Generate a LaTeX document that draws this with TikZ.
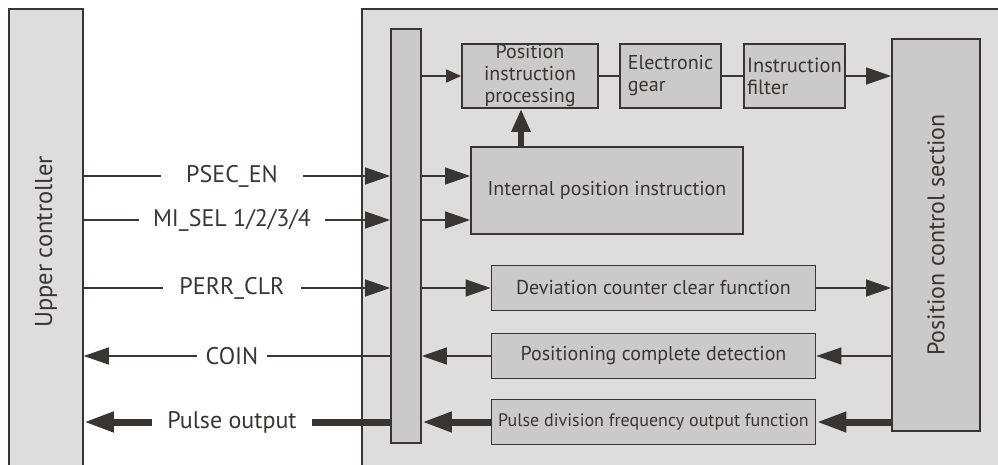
\documentclass[tikz,border=0pt]{standalone}
\usepackage{fontspec}
\setmainfont{PT Sans}
\usetikzlibrary{arrows.meta, positioning}
\definecolor{cink}{HTML}{3A3434}
\definecolor{cpanel}{HTML}{DCDDDC}
\definecolor{cbox}{HTML}{C9CAC9}
\tikzset{
  every picture/.style={line width=1.4pt, text=cink},
  panel/.style={draw=cink, fill=cpanel, line width=1.5pt, inner sep=0pt},
  box/.style={draw=cink, fill=cbox, line width=1.8pt, align=center, inner sep=2pt, font=\fontsize{20}{22}\selectfont},
  sig/.style={font=\fontsize{24}{26}\selectfont, inner ysep=0pt, inner xsep=#1},
  sig/.default=10pt,
  link/.style={draw=cink},
  arrow/.style={draw=cink, -{Triangle[length=25pt, width=17pt]}},
  thinarrow/.style={draw=cink, -{Triangle[length=15pt, width=13pt]}},
  fatline/.style={draw=cink, line width=7pt},
  fatarrow/.style={draw=cink, line width=7pt, -{Triangle[length=30pt, width=19pt]}},
}

\begin{document}
\begin{tikzpicture}[x=1pt, y=-1pt]
  \clip (0,0) rectangle (998,465);
  \node[panel, minimum width=74pt, minimum height=466pt, font=\fontsize{24.5}{26}\selectfont] (upper) at (46,242) {\rotatebox{90}{Upper controller}};
  \node[panel, minimum width=648pt, minimum height=466pt] (drive) at (686,242) {};
  \node[box, minimum width=30pt, minimum height=414pt] (bus) at (406,236) {};
  % command path
  \node[box, minimum width=136pt, minimum height=64pt, inner sep=0pt, font=\fontsize{20}{22}\selectfont] (pip) at (530,76) {Position\\instruction\\processing};
  \node[box, minimum width=101pt, minimum height=64pt, align=left, font=\fontsize{20}{22}\selectfont] (gear) at (670.5,76) {Electronic\\gear};
  \node[box, minimum width=101pt, minimum height=64pt, align=left, inner sep=0pt, font=\fontsize{20.5}{22}\selectfont] (filt) at (794.5,76) {Instruction\\filter};
  \node[box, minimum width=88pt, minimum height=392pt, font=\fontsize{24}{26}\selectfont] (pcs) at (936,235) {\rotatebox{90}{Position control section}};
  \node[box, minimum width=272pt, minimum height=87pt] (ipi) at (607,190.5) {Internal position instruction};
  \node[box, minimum width=324pt, minimum height=45pt] (dccf) at (653.5,288) {Deviation counter clear function};
  \node[box, minimum width=324pt, minimum height=45pt] (pcd) at (653.5,356) {Positioning complete detection};
  \node[box, minimum width=324pt, minimum height=45pt, inner sep=0pt, font=\fontsize{18}{20}\selectfont] (pdf) at (653.5,422) {Pulse division frequency output function};
  % signals
  \node[sig=25pt] (psec) at (232,176) {PSEC\_EN};
  \node[sig=13pt] (misel) at (232,220) {MI\_SEL 1/2/3/4};
  \node[sig=16pt] (perr) at (232,288) {PERR\_CLR};
  \node[sig=8pt] (coin) at (232,356) {COIN};
  \node[sig=15pt] (pout) at (232,422) {Pulse output};
  \foreach \s in {psec, misel, perr}{
    \draw[link] (upper.east |- \s) -- (\s);
    \draw[arrow] (\s) -- (bus.west |- \s);}
  \draw[link] (bus.west |- coin) -- (coin);
  \draw[arrow] (coin) -- (upper.east |- coin);
  \draw[fatline] (bus.west |- pout) -- (pout);
  \draw[fatarrow] (pout) -- (upper.east |- pout);
  % inside the drive
  \draw[thinarrow] (bus.east |- pip) -- (pip);
  \draw[link] (pip) -- (gear);
  \draw[link] (gear) -- (filt);
  \draw[arrow] (filt) -- (pcs.west |- filt);
  \foreach \s in {psec, misel} \draw[arrow] (bus.east |- \s) -- (ipi.west |- \s);
  \draw[draw=cink, line width=6pt, -{Triangle[length=23pt, width=18pt]}] ([xshift=-9pt]pip.south |- ipi.north) -- ([xshift=-9pt]pip.south);
  \draw[arrow] (bus.east |- dccf) -- (dccf);
  \draw[arrow] (dccf) -- (pcs.west |- dccf);
  \draw[arrow] (pcs.west |- pcd) -- (pcd);
  \draw[arrow] (pcd) -- (bus.east |- pcd);
  \draw[fatarrow] (pcs.west |- pdf) -- (pdf);
  \draw[fatarrow] (pdf) -- (bus.east |- pdf);
\end{tikzpicture}
\end{document}
